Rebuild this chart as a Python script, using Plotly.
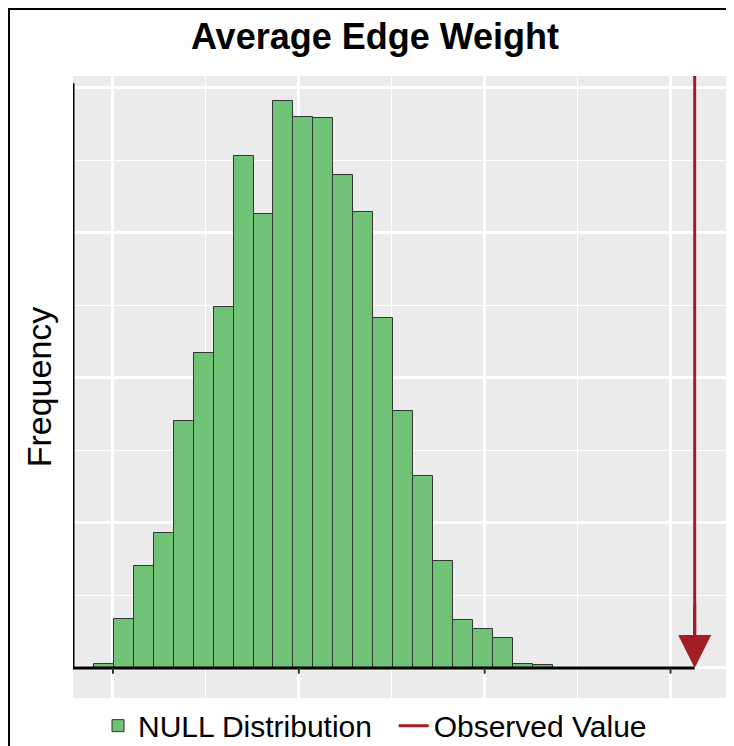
import plotly.graph_objects as go

bin_centers = [-0.05+0.1075*i for i in range(23)]
freqs = [3, 34, 70, 93, 170, 217, 249, 353, 313, 391, 380, 379, 340, 314, 241, 177, 132, 74, 33, 27, 21, 3, 2]
observed = 3.13
bar_w = 0.1075

fig = go.Figure()
fig.add_bar(x=bin_centers, y=freqs, width=bar_w, marker=dict(color="#6fc276", line=dict(color="#333", width=1)),
            name="NULL Distribution  ")
fig.add_scatter(x=[observed, observed], y=[408, 20], mode="lines", line=dict(color="#a31d24", width=3),
                name="Observed Value")
fig.add_annotation(x=observed, y=0, ax=observed, ay=45, xref="x", yref="y", axref="x", ayref="y",
                   showarrow=True, arrowhead=2, arrowsize=2.2, arrowwidth=3, arrowcolor="#a31d24", text="")

shapes = [
    dict(type="line", xref="x", yref="y", x0=-0.23, x1=3.13, y0=0, y1=0, line=dict(color="black", width=3)),
    dict(type="line", xref="x", yref="y", x0=-0.215, x1=-0.215, y0=0, y1=403, line=dict(color="black", width=3)),
    dict(type="rect", xref="paper", yref="paper", x0=-64/657, x1=1+11/657, y0=-55/622, y1=1+67/622,
         line=dict(color="black", width=2)),
]
for t in [0, 1, 2, 3]:
    shapes.append(dict(type="line", xref="x", yref="y", x0=t, x1=t, y0=0, y1=-4, line=dict(color="#333", width=2)))
for t in [100, 200, 300, 400]:
    shapes.append(dict(type="line", xref="x", yref="y", x0=-0.215, x1=-0.23, y0=t, y1=t, line=dict(color="#333", width=2)))

fig.update_layout(
    width=734, height=746, margin=dict(l=65, r=12, t=68, b=56, autoexpand=False),
    paper_bgcolor="white", plot_bgcolor="#ebebeb",
    title=dict(text="<b>Average Edge Weight</b>", x=0.5, xanchor="center", y=0.962, yanchor="middle",
               font=dict(family="Liberation Sans, Arial", size=36, color="black")),
    xaxis=dict(range=[-0.215, 3.32], dtick=1, tick0=0, showticklabels=False, gridcolor="white", gridwidth=2.5,
               automargin=False,
               minor=dict(dtick=0.5, tick0=0, showgrid=True, gridcolor="white", gridwidth=1.2), zeroline=False),
    yaxis=dict(range=[-20.7, 408], dtick=100, tick0=0, showticklabels=False, gridcolor="white", gridwidth=2.5,
               automargin=False,
               minor=dict(dtick=50, tick0=0, showgrid=True, gridcolor="white", gridwidth=1.2), zeroline=False,
               title=dict(text="Frequency", font=dict(family="Liberation Sans, Arial", size=34, color="black"), standoff=10)),
    showlegend=True,
    legend=dict(orientation="h", x=0.5, xanchor="center", xref="container", y=0.038, yanchor="middle", yref="container",
                font=dict(family="Liberation Sans, Arial", size=30, color="black"), itemwidth=30,
                bgcolor="rgba(0,0,0,0)"),
    shapes=shapes, bargap=0,
)
fig.write_html("out.html")
